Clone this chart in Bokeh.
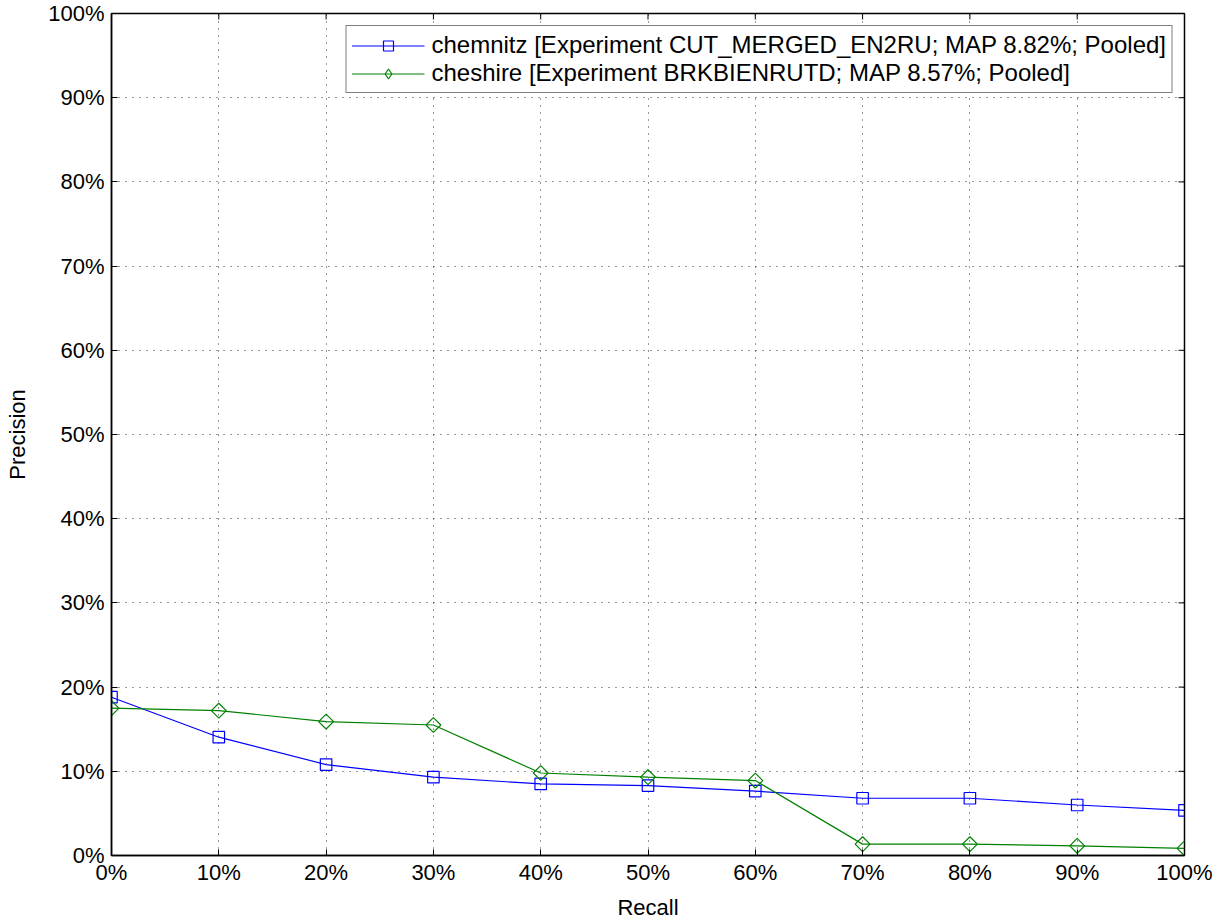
import math
from bokeh.plotting import figure
from bokeh.models import Range1d, FixedTicker, Legend, LegendItem
from bokeh.embed import file_html
from bokeh.resources import INLINE

recall = [0, 10, 20, 30, 40, 50, 60, 70, 80, 90, 100]
chemnitz = [18.8, 14.05, 10.8, 9.3, 8.5, 8.3, 7.65, 6.8, 6.8, 6.0, 5.35]
cheshire = [17.5, 17.2, 15.9, 15.5, 9.8, 9.3, 8.9, 1.35, 1.35, 1.15, 0.85]
ticks = [0, 10, 20, 30, 40, 50, 60, 70, 80, 90, 100]
tick_labels = {t: f"{t}%" for t in ticks}
label_chemnitz = "chemnitz [Experiment CUT_MERGED_EN2RU; MAP 8.82%; Pooled]"
label_cheshire = "cheshire [Experiment BRKBIENRUTD; MAP 8.57%; Pooled]"

FONT = "Liberation Sans"
FS = "22px"

p = figure(width=1216, height=922, output_backend="svg", toolbar_location=None,
           x_range=Range1d(0, 100), y_range=Range1d(0, 100),
           min_border_left=111, min_border_right=32, min_border_top=13, min_border_bottom=64)

p.outline_line_color = "black"
p.outline_line_width = 1.5

for ax in (p.xaxis[0], p.yaxis[0]):
    ax.ticker = FixedTicker(ticks=ticks)
    ax.major_label_overrides = tick_labels
    ax.major_tick_in = 6
    ax.major_tick_out = 0
    ax.minor_tick_line_color = None
    ax.axis_line_color = "black"
    ax.axis_line_width = 1.5
    ax.major_tick_line_color = "black"
    ax.major_label_text_font = FONT
    ax.major_label_text_font_size = FS
    ax.major_label_text_color = "black"
    ax.axis_label_text_font = FONT
    ax.axis_label_text_font_size = FS
    ax.axis_label_text_font_style = "normal"
    ax.axis_label_text_color = "black"

p.xaxis.axis_label = "Recall"
p.yaxis.axis_label = "Precision"
p.xaxis.major_label_standoff = 4
p.yaxis.major_label_standoff = 7
p.xaxis.axis_label_standoff = 7
p.yaxis.axis_label_standoff = 15

# box ticks on top and right edges (MATLAB "box on")
p.ray(x=ticks, y=[100] * len(ticks), length=6, length_units="screen",
      angle=-math.pi / 2, line_color="black", line_width=1)
p.ray(x=[100] * len(ticks), y=ticks, length=6, length_units="screen",
      angle=math.pi, line_color="black", line_width=1)

p.xgrid.ticker = FixedTicker(ticks=ticks)
p.ygrid.ticker = FixedTicker(ticks=ticks)
for g in (p.xgrid[0], p.ygrid[0]):
    g.grid_line_color = "black"
    g.grid_line_alpha = 0.8
    g.grid_line_dash = "1 6"
    g.grid_line_width = 1

blue = "#0000ff"
green = "#008000"
l1 = p.line(recall, chemnitz, line_color=blue, line_width=1.2)
m1 = p.scatter(recall, chemnitz, marker="square", size=11.5, fill_color=None,
               line_color=blue, line_width=1.2)
l2 = p.line(recall, cheshire, line_color=green, line_width=1.2)
m2 = p.scatter(recall, cheshire, marker="square", angle=math.pi / 4, size=10.5,
               fill_color=None, line_color=green, line_width=1.2)
# hidden diamond glyph used only as the legend key
m2_key = p.scatter(recall, cheshire, marker="diamond", size=14, fill_color=None,
                   line_color=green, line_width=1.2, visible=False)

legend = Legend(items=[LegendItem(label=label_chemnitz, renderers=[l1, m1]),
                       LegendItem(label=label_cheshire, renderers=[l2, m2_key])],
                location="top_right")
legend.border_line_color = "black"
legend.border_line_width = 1
legend.label_text_font = FONT
legend.label_text_font_size = "24px"
legend.label_text_color = "black"
legend.glyph_width = 73
legend.glyph_height = 25
legend.spacing = 0
legend.padding = 5
legend.margin = 12
legend.label_standoff = 7
legend.label_height = 25
p.add_layout(legend, "center")

open("out.html", "w").write(file_html(p, INLINE))
